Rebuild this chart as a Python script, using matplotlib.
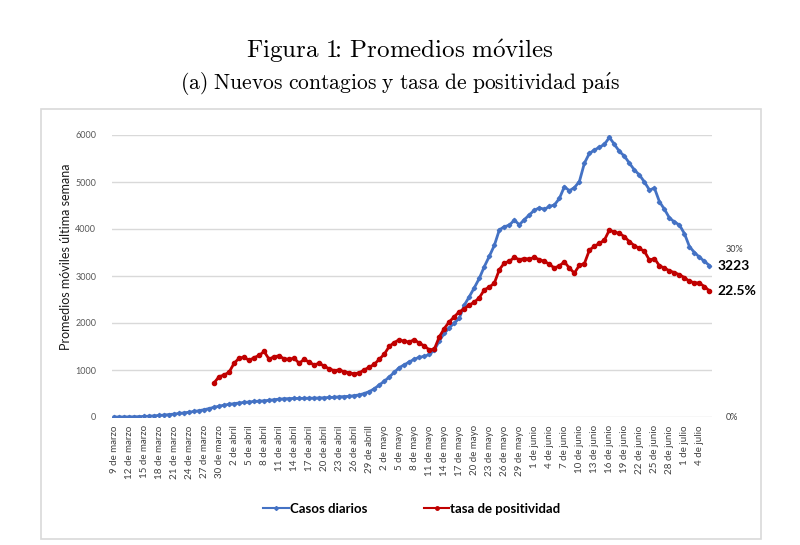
import numpy as np
import matplotlib
matplotlib.use("Agg")
import matplotlib.pyplot as plt
from matplotlib.patches import Rectangle
from matplotlib.lines import Line2D

plt.rcParams['mathtext.fontset'] = 'cm'
plt.rcParams['font.family'] = ['Lato', 'DejaVu Sans']

# daily moving averages, 9 de marzo -> 6 de julio
casos = [0, 1, 2, 3, 5, 8, 12, 18, 25, 33,
         42, 52, 62, 75, 88, 102, 118, 135, 155, 180,
         206, 230, 252, 270, 285, 298, 310, 320, 330, 338,
         345, 355, 368, 380, 388, 392, 395, 396, 398, 400,
         402, 405, 410, 415, 420, 430, 435, 440, 455, 470,
         500, 540, 600, 680, 760, 850, 950, 1050, 1110, 1170,
         1230, 1270, 1290, 1330, 1420, 1620, 1780, 1900, 2000, 2100,
         2380, 2560, 2750, 2950, 3200, 3420, 3650, 3980, 4050, 4080,
         4190, 4090, 4200, 4300, 4400, 4450, 4420, 4480, 4510, 4650,
         4900, 4815, 4880, 5010, 5400, 5610, 5680, 5740, 5800, 5950,
         5800, 5650, 5550, 5400, 5255, 5150, 5000, 4830, 4870, 4580,
         4420, 4234, 4150, 4085, 3900, 3624, 3500, 3400, 3310, 3223]

# positivity (%), starts 29 de marzo (day index 20)
positividad_inicio = 20
positividad = [6.1, 7.2, 7.5, 8.0, 9.6, 10.5, 10.7, 10.1, 10.6, 11.0,
               11.7, 10.3, 10.8, 10.9, 10.4, 10.3, 10.5, 9.6, 10.3, 9.8,
               9.3, 9.6, 9.1, 8.6, 8.3, 8.4, 8.1, 7.9, 7.7, 7.9,
               8.4, 8.9, 9.4, 10.3, 11.2, 12.6, 13.3, 13.8, 13.5, 13.4,
               13.8, 13.2, 12.7, 12.0, 12.1, 14.3, 15.8, 17.0, 17.9, 18.8,
               19.3, 20.0, 20.5, 21.3, 22.7, 23.2, 23.9, 26.3, 27.5, 27.8,
               28.5, 28.1, 28.3, 28.2, 28.5, 28.1, 27.8, 27.3, 26.6, 27.0,
               27.7, 26.6, 25.7, 27.1, 27.4, 29.8, 30.5, 31.0, 31.6, 33.4,
               33.0, 32.8, 32.2, 31.3, 30.6, 30.1, 29.6, 28.0, 28.3, 27.0,
               26.6, 26.1, 25.8, 25.4, 24.9, 24.2, 24.0, 23.9, 23.3, 22.5]

etiquetas = ['9 de marzo', '12 de marzo', '15 de marzo', '18 de marzo', '21 de marzo',
             '24 de marzo', '27 de marzo', '30 de marzo', '2 de abril', '5 de abril',
             '8 de abril', '11 de abril', '14 de abril', '17 de abril', '20 de abril',
             '23 de abril', '26 de abril', '29 de abrill', '2 de mayo', '5 de mayo',
             '8 de mayo', '11 de mayo', '14 de mayo', '17 de mayo', '20 de mayo',
             '23 de mayo', '26 de mayo', '29 de mayo', '1 de junio', '4 de junio',
             '7 de junio', '10 de junio', '13 de junio', '16 de junio', '19 de junio',
             '22 de junio', '25 de junio', '28 de junio', '1 de julio', '4 de julio']

azul = '#4472C4'
rojo = '#C00000'

fig = plt.figure(figsize=(8, 5.45), dpi=100)
fig.patches.append(Rectangle((40.7/800, 1-539/545), 720/800, 430/545,
                             transform=fig.transFigure, fill=False,
                             edgecolor='#d9d9d9', lw=1.2))

ax = fig.add_axes([111.7/800, 1-417/545, 600/800, 282/545])
x = np.arange(len(casos))
ax.plot(x, casos, color=azul, lw=2, marker='D', ms=2.2, zorder=3)
ax.set_xlim(-0.46, len(casos) - 0.56)
ax.set_ylim(0, 6000)
ax.set_yticks(range(0, 6001, 1000))
ax.yaxis.grid(True, color='#d9d9d9', lw=1)
ax.set_axisbelow(True)
for s in ax.spines.values():
    s.set_visible(False)
ax.tick_params(axis='y', length=0, pad=11, labelsize=6.5, labelcolor='#595959')
ax.set_xticks(x[::3])
ax.set_xticklabels(etiquetas, rotation=90, fontsize=7, color='#404040')
ax.tick_params(axis='x', length=0, pad=6)

ax2 = ax.twinx()
xp = np.arange(positividad_inicio, positividad_inicio + len(positividad))
ax2.plot(xp, positividad, color=rojo, lw=2, marker='o', ms=3, zorder=3)
ax2.set_ylim(0, 30 * 282 / 168)
ax2.set_yticks([0, 30])
ax2.set_yticklabels(['0%', '30%'])
ax2.tick_params(axis='y', length=0, pad=10, labelsize=6.5, labelcolor='#404040')
for s in ax2.spines.values():
    s.set_visible(False)

ax.annotate(str(casos[-1]), xy=(x[-1], casos[-1]), xytext=(6, 0),
            textcoords='offset points', va='center', ha='left',
            fontsize=10, fontweight='bold', color='black')
ax2.annotate('%.1f%%' % positividad[-1], xy=(xp[-1], positividad[-1]), xytext=(6, 0),
             textcoords='offset points', va='center', ha='left',
             fontsize=10, fontweight='bold', color='black')

fig.text(65.7/800, 1-257/545, 'Promedios móviles última semana', rotation=90,
         ha='center', va='center', fontsize=9, color='#1a1a1a')

handles = [Line2D([], [], color=azul, lw=1.5, marker='D', ms=2),
           Line2D([], [], color=rojo, lw=1.5, marker='o', ms=2.5)]
fig.legend(handles, ['Casos diarios', 'tasa de positividad'], loc='center',
           bbox_to_anchor=(0.515, 1-509/545), ncol=2, frameon=False,
           handlelength=1.9, handletextpad=0.1, columnspacing=4.3,
           prop={'weight': 'bold', 'size': 9.5})

fig.text(0.5, 1-51/545, r'$\mathrm{Figura\ 1\!\!:\!\ Promedios\ m\acute{o}viles}$',
         ha='center', va='center', fontsize=18)
fig.text(0.5, 1-83/545,
         r'$\mathrm{(a)\ Nuevos\ contagios\ y\ tasa\ de\ positividad\ pa\acute{ı}s}$',
         ha='center', va='center', fontsize=15.5)

fig.savefig('out.png', dpi=100)
